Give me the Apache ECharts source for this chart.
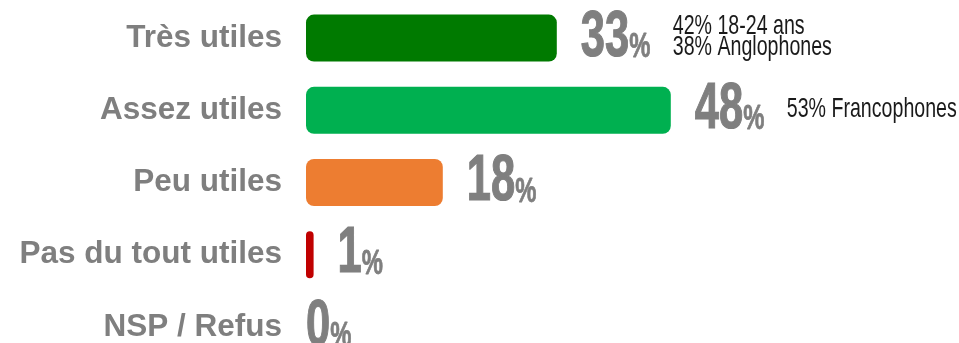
<!DOCTYPE html>
<html>
<head>
<meta charset="utf-8">
<script src="https://cdn.jsdelivr.net/npm/echarts@6/dist/echarts.min.js"></script>
<style>
  html, body { margin: 0; padding: 0; background: #ffffff; }
  #chart { width: 959px; height: 343px; }
</style>
</head>
<body>
<div id="chart"></div>
<script>
// Survey answers, top to bottom
const categories = ['Très utiles', 'Assez utiles', 'Peu utiles', 'Pas du tout utiles', 'NSP / Refus'];
const shares = [33, 48, 18, 1, 0];
const notes = ['42% 18-24 ans\n38% Anglophones', '53% Francophones', '', '', ''];

const barColors = ['#007A00', '#00B050', '#ED7D31', '#C00000', '#808080'];
const GRAY = '#7f7f7f';
const SANS = '"Liberation Sans", Arial, sans-serif';

const chart = echarts.init(document.getElementById('chart'), null, { renderer: 'canvas' });

const rows = shares.map((v, i) => [v, i]);

chart.setOption({
  animation: false,
  backgroundColor: '#ffffff',
  grid: {
    left: 306, top: 2, width: 760, height: 361,
    containLabel: false, outerBoundsMode: 'none'
  },
  xAxis: {
    type: 'value', min: 0, max: 100, show: false
  },
  yAxis: {
    type: 'category',
    data: categories,
    inverse: true,
    axisLine: { show: false },
    axisTick: { show: false },
    splitLine: { show: false },
    axisLabel: {
      margin: 24,
      color: GRAY,
      fontSize: 31.5,
      fontWeight: 'bold',
      fontFamily: SANS
    }
  },
  series: [
    {
      type: 'bar',
      barWidth: 47,
      data: shares.map((v, i) => ({ value: v, itemStyle: { color: barColors[i] } })),
      itemStyle: { borderRadius: 8 }
    },
    {
      // big percentage figures to the right of each bar
      type: 'custom',
      coordinateSystem: 'cartesian2d',
      encode: { x: 0, y: 1 },
      data: rows,
      z: 5,
      renderItem: function (params, api) {
        const v = api.value(0);
        const pt = api.coord([v, api.value(1)]);
        return {
          type: 'text',
          x: pt[0] + (v > 0 ? 24 : 0),
          y: pt[1],
          scaleX: 0.68,
          style: {
            text: '{n|' + v + '}{p|%}',
            align: 'left',
            verticalAlign: 'middle',
            rich: {
              n: {
                fontSize: 64, fontWeight: 'bold', lineHeight: 64,
                fontFamily: SANS, fill: GRAY, verticalAlign: 'bottom',
                stroke: GRAY, lineWidth: 1.2
              },
              p: {
                fontSize: 35, fontWeight: 'bold', lineHeight: 36,
                fontFamily: SANS, fill: GRAY, verticalAlign: 'bottom',
                padding: [0, 0, 5, 0],
                stroke: GRAY, lineWidth: 0.8
              }
            }
          }
        };
      }
    },
    {
      // side notes on sub-groups
      type: 'custom',
      coordinateSystem: 'cartesian2d',
      encode: { x: 0, y: 1 },
      data: rows,
      z: 5,
      renderItem: function (params, api) {
        const i = api.value(1);
        const txt = notes[i];
        if (!txt) return null;
        const pt = api.coord([api.value(0), i]);
        return {
          type: 'text',
          x: pt[0] + 116,
          y: pt[1] - 1,
          scaleX: 0.7,
          style: {
            text: txt,
            align: 'left',
            verticalAlign: 'middle',
            fontSize: 28,
            lineHeight: 21,
            fontFamily: SANS,
            fill: '#1a1a1a'
          }
        };
      }
    }
  ]
});
</script>
</body>
</html>
